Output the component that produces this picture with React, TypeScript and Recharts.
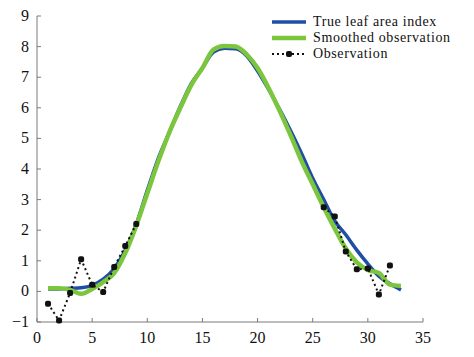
import { LineChart, Line, XAxis, YAxis } from "recharts";

const days = [1, 2, 3, 4, 5, 6, 7, 8, 9, 10, 11, 12, 13, 14, 15, 16, 17, 18, 19, 20, 21, 22, 23, 24, 25, 26, 27, 28, 29, 30, 31, 32, 33];
const trueLai = [0.08, 0.08, 0.1, 0.12, 0.2, 0.4, 0.75, 1.35, 2.2, 3.3, 4.35, 5.2, 6.05, 6.8, 7.3, 7.82, 7.95, 7.93, 7.7, 7.2, 6.6, 5.95, 5.25, 4.5, 3.7, 3.0, 2.3, 1.85, 1.35, 0.9, 0.5, 0.25, 0.05];
const smoothed = [0.1, 0.1, 0.05, -0.08, 0.08, 0.3, 0.6, 1.25, 2.15, 3.2, 4.25, 5.2, 6.0, 6.75, 7.3, 7.9, 8.02, 8.0, 7.75, 7.3, 6.65, 5.9, 5.1, 4.25, 3.5, 2.75, 2.05, 1.4, 0.95, 0.7, 0.6, 0.22, 0.18];
const observed = [-0.4, -0.95, -0.05, 1.05, 0.22, -0.02, 0.8, 1.48, 2.2, null, null, null, null, null, null, null, null, null, null, null, null, null, null, null, null, 2.75, 2.45, 1.3, 0.72, 0.75, -0.1, 0.85, null];

const xTicks = [0, 5, 10, 15, 20, 25, 30, 35];
const yTicks = [-1, 0, 1, 2, 3, 4, 5, 6, 7, 8, 9];
const legendLabels = ["True leaf area index", "Smoothed observation", "Observation"];

const data = days.map((d, i) => ({
  day: d,
  trueLai: trueLai[i],
  smoothed: smoothed[i],
  observed: observed[i],
}));

const FONT = "'Liberation Serif', 'Times New Roman', serif";
const BLUE = "#1f4ea6";
const GREEN = "#7cc63d";
const AXIS = "#7a7a7a";

function YTick(props: any) {
  const { x, y, payload } = props;
  const v = payload.value;
  return (
    <g>
      <line x1={x + 8} x2={x + 12} y1={y} y2={y} stroke={AXIS} strokeWidth={1} />
      <text x={x} y={y} dy={5} textAnchor="end" fontFamily={FONT} fontSize={16} fill="#111">
        {v < 0 ? "\u2212" + Math.abs(v) : v}
      </text>
    </g>
  );
}

function XTick(props: any) {
  const { x, y, payload } = props;
  return (
    <g>
      <line x1={x} x2={x} y1={y - 5} y2={y - 9} stroke={AXIS} strokeWidth={1} />
      <text x={x} y={y} dy={16} textAnchor="middle" fontFamily={FONT} fontSize={16} fill="#111">
        {payload.value}
      </text>
    </g>
  );
}

function ObsDot(props: any) {
  const { cx, cy, value } = props;
  if (value == null || cx == null || cy == null) return null;
  return <rect x={cx - 3} y={cy - 3} width={6} height={6} rx={2} fill="#111" />;
}

function LegendBox() {
  return (
    <div
      style={{
        position: "absolute",
        left: 271,
        top: 14,
        fontFamily: FONT,
        fontSize: 14,
        letterSpacing: 0.6,
        color: "#111",
      }}
    >
      {legendLabels.map((label, i) => (
        <div key={label} style={{ display: "flex", alignItems: "center", height: 16 }}>
          <svg width={36} height={16} style={{ marginRight: 6, display: "block" }}>
            {i === 0 && <line x1={1} x2={35} y1={8} y2={8} stroke={BLUE} strokeWidth={3.5} />}
            {i === 1 && <line x1={1} x2={35} y1={8} y2={8} stroke={GREEN} strokeWidth={4.5} />}
            {i === 2 && (
              <g>
                <line x1={1} x2={35} y1={8} y2={8} stroke="#111" strokeWidth={2} strokeDasharray="2 3" />
                <rect x={15} y={5} width={6} height={6} rx={2} fill="#111" />
              </g>
            )}
          </svg>
          <span style={{ display: "inline-block", lineHeight: "16px", whiteSpace: "nowrap" }}>{label}</span>
        </div>
      ))}
    </div>
  );
}

export default function App() {
  return (
    <div style={{ position: "absolute", left: 0, top: 0, width: 474, height: 357, background: "#fff" }}>
      <LineChart width={474} height={357} data={data} margin={{ top: 16, right: 51, left: 0, bottom: 0 }}>
        <XAxis
          dataKey="day"
          type="number"
          domain={[0, 35]}
          ticks={xTicks}
          height={35}
          tickLine={false}
          tickSize={0}
          tickMargin={5}
          stroke={AXIS}
          tick={<XTick />}
        />
        <YAxis
          type="number"
          domain={[-1, 9]}
          ticks={yTicks}
          width={37}
          tickLine={false}
          tickSize={0}
          tickMargin={8}
          stroke={AXIS}
          tick={<YTick />}
        />
        <Line
          type="monotone"
          dataKey="trueLai"
          stroke={BLUE}
          strokeWidth={3.5}
          dot={false}
          isAnimationActive={false}
        />
        <Line
          type="monotone"
          dataKey="smoothed"
          stroke={GREEN}
          strokeWidth={4.5}
          dot={false}
          isAnimationActive={false}
        />
        <Line
          type="linear"
          dataKey="observed"
          stroke="#111"
          strokeWidth={2}
          strokeDasharray="2 3"
          dot={<ObsDot />}
          isAnimationActive={false}
        />
      </LineChart>
      <LegendBox />
    </div>
  );
}
